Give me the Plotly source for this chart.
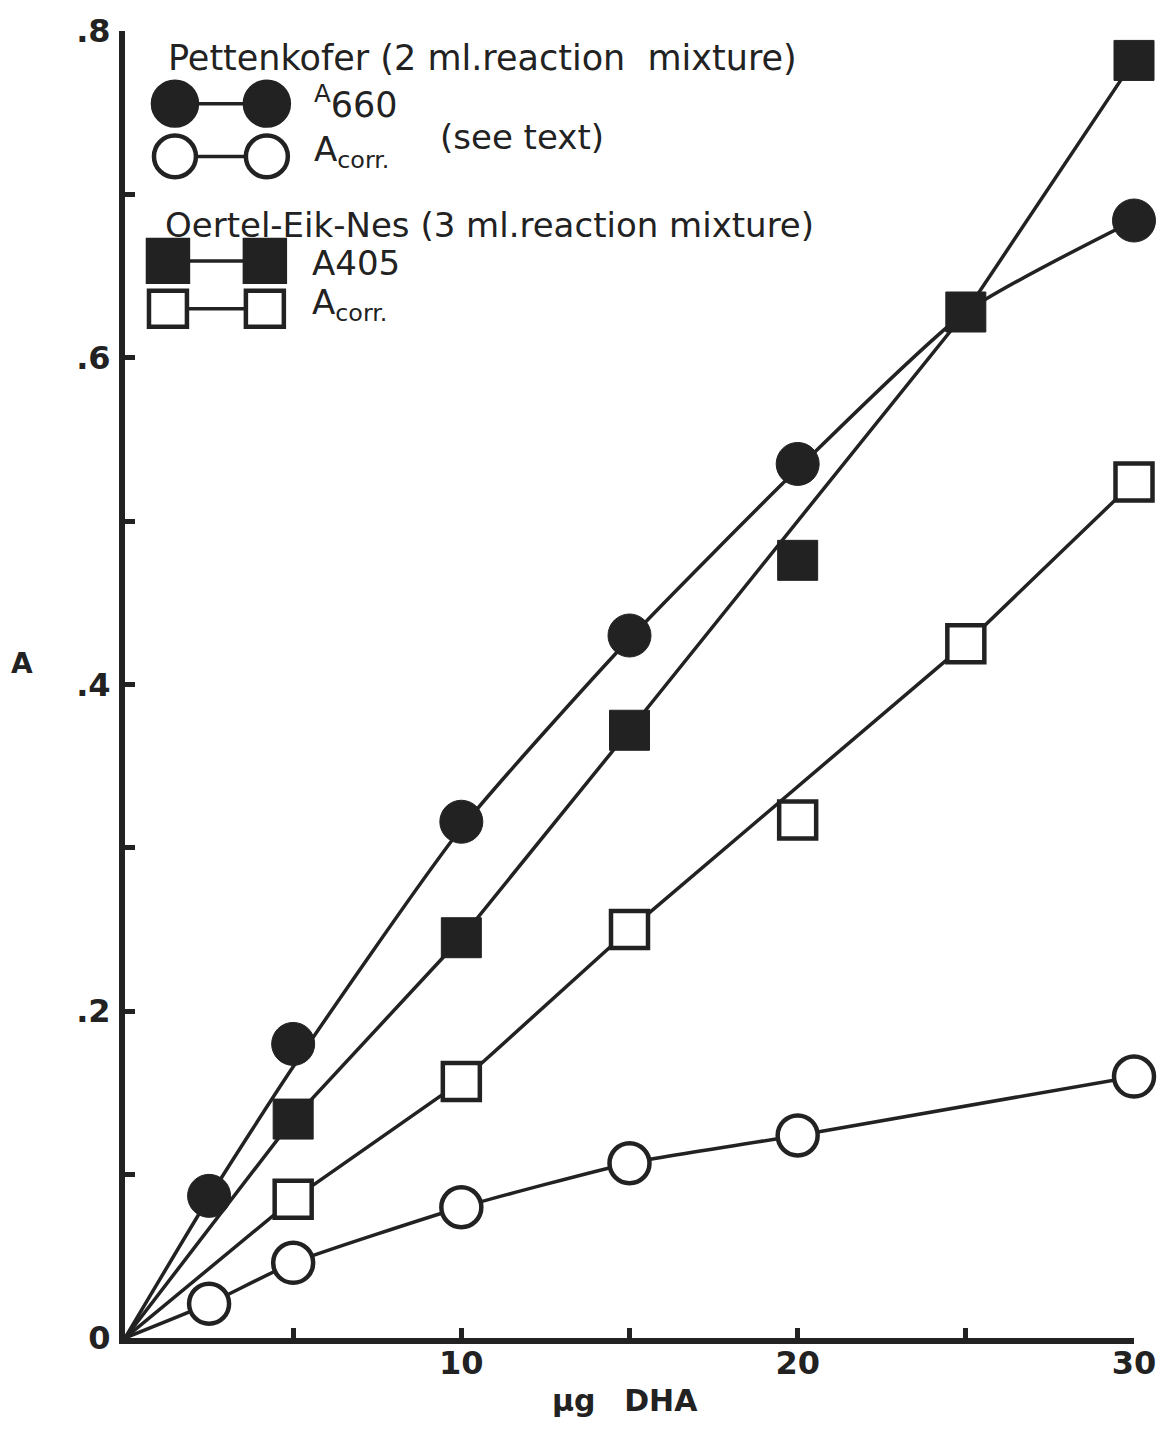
import plotly.graph_objects as go

# ---- measured points -------------------------------------------------------
# Pettenkofer (2 ml reaction mixture)
pet_a660_x = [2.5, 5, 10, 15, 20, 30]
pet_a660_y = [0.087, 0.180, 0.316, 0.430, 0.535, 0.684]
pet_corr_x = [2.5, 5, 10, 15, 20, 30]
pet_corr_y = [0.021, 0.046, 0.080, 0.107, 0.124, 0.160]

# Oertel-Eik-Nes (3 ml reaction mixture)
oen_a405_x = [5, 10, 15, 20, 25, 30]
oen_a405_y = [0.134, 0.245, 0.372, 0.476, 0.628, 0.782]
oen_corr_x = [5, 10, 15, 20, 25, 30]
oen_corr_y = [0.085, 0.157, 0.250, 0.317, 0.425, 0.524]

# ---- hand-drawn curves through the origin ----------------------------------
fit_a660_x = [0, 2.5, 5, 10, 15, 20, 25, 30]
fit_a660_y = [0, 0.086, 0.166, 0.312, 0.428, 0.532, 0.628, 0.684]
fit_pcorr_x = [0, 2.5, 5, 10, 15, 20, 30]
fit_pcorr_y = [0, 0.021, 0.046, 0.080, 0.107, 0.124, 0.160]
fit_a405_x = [0, 5, 10, 15, 25, 30]
fit_a405_y = [0, 0.134, 0.245, 0.372, 0.628, 0.782]
fit_ocorr_x = [0, 5, 10, 15, 25, 30]
fit_ocorr_y = [0, 0.085, 0.157, 0.250, 0.425, 0.524]

# ---- axis ticks ------------------------------------------------------------
x_tick_vals = [5, 10, 15, 20, 25, 30]
x_tick_text = ["", "10", "", "20", "", "30"]
y_tick_vals = [0, 0.1, 0.2, 0.3, 0.4, 0.5, 0.6, 0.7, 0.8]
y_tick_text = ["0", "", ".2", "", ".4", "", ".6", "", ".8"]

INK = "#222222"
W, H = 1168, 1437
ML, MR, MT, MB = 125, 33, 25, 99
PW, PH = W - ML - MR, H - MT - MB


def px(xp):
    return (xp - ML) / PW


def py(yp):
    return (H - MB - yp) / PH


fig = go.Figure()

curve_style = dict(color=INK, width=3.5)
fig.add_trace(go.Scatter(x=fit_a660_x, y=fit_a660_y, mode="lines",
                         line=dict(**curve_style, shape="spline", smoothing=0.6)))
fig.add_trace(go.Scatter(x=fit_pcorr_x, y=fit_pcorr_y, mode="lines",
                         line=dict(**curve_style, shape="spline", smoothing=0.5)))
fig.add_trace(go.Scatter(x=fit_a405_x, y=fit_a405_y, mode="lines",
                         line=dict(**curve_style, shape="linear")))
fig.add_trace(go.Scatter(x=fit_ocorr_x, y=fit_ocorr_y, mode="lines",
                         line=dict(**curve_style, shape="linear")))

fig.add_trace(go.Scatter(x=pet_corr_x, y=pet_corr_y, mode="markers", cliponaxis=False,
                         marker=dict(symbol="circle", size=40, color="white",
                                     line=dict(color=INK, width=4.5))))
fig.add_trace(go.Scatter(x=oen_corr_x, y=oen_corr_y, mode="markers", cliponaxis=False,
                         marker=dict(symbol="square", size=37, color="white",
                                     line=dict(color=INK, width=4.5))))
fig.add_trace(go.Scatter(x=pet_a660_x, y=pet_a660_y, mode="markers", cliponaxis=False,
                         marker=dict(symbol="circle", size=43, color=INK,
                                     line=dict(color=INK, width=1))))
fig.add_trace(go.Scatter(x=oen_a405_x, y=oen_a405_y, mode="markers", cliponaxis=False,
                         marker=dict(symbol="square", size=40, color=INK,
                                     line=dict(color=INK, width=1))))

# ---- key (drawn with shapes) -----------------------------------------------
shapes = []


def circle_key(cx, cy, r, filled):
    shapes.append(dict(type="circle", xref="paper", yref="paper",
                       x0=px(cx - r), x1=px(cx + r), y0=py(cy + r), y1=py(cy - r),
                       fillcolor=INK if filled else "white",
                       line=dict(color=INK, width=4.5)))


def square_key(cx, cy, hw, hh, filled):
    shapes.append(dict(type="rect", xref="paper", yref="paper",
                       x0=px(cx - hw), x1=px(cx + hw), y0=py(cy + hh), y1=py(cy - hh),
                       fillcolor=INK if filled else "white",
                       line=dict(color=INK, width=4.5)))


def key_line(x0, x1, y):
    shapes.append(dict(type="line", xref="paper", yref="paper",
                       x0=px(x0), x1=px(x1), y0=py(y), y1=py(y),
                       line=dict(color=INK, width=3.5)))


key_line(175, 267, 98)
circle_key(175, 98, 22, True)
circle_key(267, 98, 22, True)
key_line(175, 267, 151)
circle_key(175, 151, 21, False)
circle_key(267, 151, 21, False)
key_line(168, 265, 256)
square_key(168, 256, 20, 21, True)
square_key(265, 256, 20, 21, True)
key_line(168, 265, 304)
square_key(168, 304, 19, 18, False)
square_key(265, 304, 19, 18, False)

annotations = []


def label(text, xp, yp, size=30, anchor="left", family="DejaVu Sans"):
    annotations.append(dict(text=text, xref="paper", yref="paper",
                            x=px(xp), y=py(yp), xanchor=anchor, yanchor="middle",
                            showarrow=False,
                            font=dict(family=family, size=size, color=INK)))


label("Pettenkofer (2 ml.reaction  mixture)", 166, 52, size=35)
label("<sup>A</sup>660", 312, 96, size=35)
label("A<sub>corr.</sub>", 312, 146, size=34)
label("(see text)", 438, 131, size=34)
label("Oertel-Eik-Nes (3 ml.reaction mixture)", 163, 220, size=34)
label("A405", 310, 258, size=34)
label("A<sub>corr.</sub>", 310, 300, size=34)

# axis titles
label("<b>A</b>", 22, 660, size=28, anchor="center")
label("<b>μg</b>   <b>DHA</b>", 625, 1401, size=30, anchor="center")

fig.update_layout(
    width=W, height=H,
    margin=dict(l=ML, r=MR, t=MT, b=MB),
    paper_bgcolor="white", plot_bgcolor="white",
    showlegend=False,
    shapes=shapes, annotations=annotations,
    xaxis=dict(range=[0, 30], tickvals=x_tick_vals, ticktext=x_tick_text,
               ticks="inside", ticklen=10, tickwidth=5, tickcolor=INK,
               showline=True, linecolor=INK, linewidth=6, showgrid=False,
               zeroline=False, ticklabelstandoff=-8,
               tickfont=dict(family="DejaVu Sans", size=32, color=INK, weight="bold")),
    yaxis=dict(range=[0, 0.8], tickvals=y_tick_vals, ticktext=y_tick_text,
               ticks="inside", ticklen=10, tickwidth=5, tickcolor=INK,
               showline=True, linecolor=INK, linewidth=6, showgrid=False,
               zeroline=False, ticklabelstandoff=2,
               tickfont=dict(family="DejaVu Sans", size=32, color=INK, weight="bold")),
)

fig.write_html("out.html")
